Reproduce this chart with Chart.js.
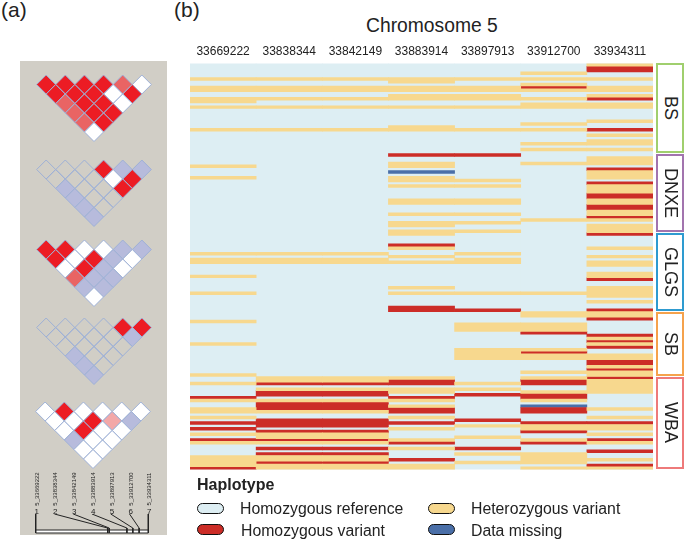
<!DOCTYPE html>
<html>
<head>
<meta charset="utf-8">
<title>Haplotype chart</title>
<script src="https://cdn.jsdelivr.net/npm/chart.js@4"></script>
<style>
  html, body { margin: 0; padding: 0; background: #fff; }
  body { width: 685px; height: 544px; position: relative; overflow: hidden; font-family: "Liberation Sans", Arial, sans-serif; color: #222; }
  canvas { position: absolute; }
  .abs { position: absolute; white-space: nowrap; }
  #panel { position: absolute; left: 20px; top: 61px; width: 147px; height: 474px; background: #d1cec6; }
  .strip { position: absolute; left: 656px; width: 28px; box-sizing: border-box; border: 2px solid; background: #fff; display: flex; align-items: center; justify-content: center; writing-mode: vertical-rl; font-size: 18px; }
  .swatch { position: absolute; width: 25px; height: 9px; border: 1.5px solid #111; border-radius: 6px; box-sizing: content-box; }
  .snp { position: absolute; font-size: 6px; transform: translate(-50%, -50%) rotate(-90deg); white-space: nowrap; }
  .num { position: absolute; font-size: 8px; transform: translate(-50%, -50%); }
</style>
</head>
<body>
<div class="abs" style="left:1px;top:-2px;font-size:21px">(a)</div>
<div class="abs" style="left:174px;top:-2px;font-size:21px">(b)</div>
<div class="abs" style="left:366px;top:15px;font-size:19.3px">Chromosome 5</div>
<div id="panel"></div>
<canvas id="heat" width="685" height="544" style="left:0;top:0"></canvas>

<div class="strip" style="top:63px;height:90px;border-color:#a0cf6e">BS</div>
<div class="strip" style="top:154px;height:78px;border-color:#a274ae">DNXE</div>
<div class="strip" style="top:233px;height:78px;border-color:#2e9bd0">GLGS</div>
<div class="strip" style="top:312px;height:64px;border-color:#f5a24c">SB</div>
<div class="strip" style="top:377px;height:92px;border-color:#ee7a7a">WBA</div>

<div class="abs" style="left:197px;top:476px;font-size:16px;font-weight:bold">Haplotype</div>
<div class="swatch" style="left:197px;top:503px;background:#ddeef3"></div>
<div class="abs" style="left:240px;top:500px;font-size:15.8px">Homozygous reference</div>
<div class="swatch" style="left:197px;top:524px;background:#cc2d27"></div>
<div class="abs" style="left:241px;top:522px;font-size:15.8px">Homozygous variant</div>
<div class="swatch" style="left:428px;top:503px;background:#f7d88e"></div>
<div class="abs" style="left:471px;top:500px;font-size:15.8px">Heterozygous variant</div>
<div class="swatch" style="left:428px;top:524px;background:#4a6fa8"></div>
<div class="abs" style="left:471px;top:522px;font-size:15.8px">Data missing</div>

<script>
const positions = ['33669222', '33838344', '33842149', '33883914', '33897913', '33912700', '33934311'];
const rowCount = 144;

// stripes per column as [first row, row after last]
const het1 = [[5,6],[8,10],[12,14],[15,16],[23,24],[36,37],[40,41],[67,68],[69,71],[75,76],[81,82],[91,92],[99,100],[110,111],[113,114],[119,120],[122,124],[125,126],[131,132],[134,135],[139,143]];
const hom1 = [[118,119],[127,128],[129,130],[133,134],[143,144]];
const het2 = [[5,6],[8,10],[12,13],[15,16],[23,24],[67,68],[69,71],[111,113],[115,116],[119,120],[123,124],[131,133],[134,135],[139,141],[142,144]];
const hom2 = [[113,114],[116,118],[120,123],[126,129],[130,131],[133,134],[136,137],[138,139],[141,142]];
const het3 = het2.slice();
const hom3 = hom2.slice();
const het4 = [[5,7],[8,10],[11,13],[15,16],[22,24],[35,37],[40,42],[43,44],[48,50],[53,54],[56,58],[59,61],[65,66],[68,69],[70,71],[79,80],[81,82],[111,112],[115,117],[119,120],[121,122],[125,126],[129,130],[133,134],[136,137],[142,144]];
const hom4 = [[32,33],[64,65],[86,88],[112,114],[118,119],[122,124],[127,128],[134,135],[140,141]];
const missing4 = [[38,39]];
const het5 = [[5,6],[8,10],[11,13],[15,16],[23,24],[41,42],[43,44],[48,50],[53,54],[56,57],[59,60],[67,68],[69,71],[81,82],[92,95],[101,105],[113,114],[115,116],[128,129],[132,133],[138,139],[141,142]];
const hom5 = [[32,33],[87,88],[117,118],[126,127],[136,137]];
const het6 = [[3,4],[5,6],[7,8],[9,10],[12,13],[14,16],[21,22],[23,24],[28,29],[30,31],[35,36],[55,56],[81,82],[88,90],[92,95],[101,102],[103,105],[109,110],[111,112],[116,117],[119,120],[128,130],[133,134],[138,142],[143,144]];
const hom6 = [[8,9],[95,96],[102,103],[112,114],[117,119],[122,124],[127,128],[130,131],[134,135]];
const missing6 = [[121,122]];
const het7 = [[0,1],[5,6],[8,10],[11,12],[14,16],[20,21],[25,26],[27,29],[30,31],[33,36],[38,41],[43,46],[48,50],[52,54],[55,56],[57,60],[65,66],[68,69],[70,72],[74,76],[79,83],[84,85],[88,90],[97,98],[99,100],[103,105],[107,108],[109,111],[112,117],[122,123],[125,126],[128,130],[131,132],[134,135],[140,141],[143,144]];
const hom7 = [[1,3],[12,13],[23,24],[37,38],[42,43],[46,48],[50,52],[54,55],[60,61],[76,77],[87,88],[90,91],[96,97],[98,99],[100,101],[105,107],[108,109],[111,112],[127,128],[133,134],[137,138],[142,143]];

// LD triangles, one string per row: r red, s salmon, p pink, w white, l lavender, n empty
const ldBS = ['rrrrsw', 'rrrwr', 'srrw', 'srr', 'sr', 'w'];
const ldDNXE = ['nnnrll', 'nnnwr', 'lnnr', 'lnn', 'ln', 'l'];
const ldGLGS = ['rrwwll', 'rwrlw', 'wrlw', 'sll', 'll', 'w'];
const ldSB = ['nnnnrr', 'nnnnl', 'nnnn', 'lnn', 'ln', 'l'];
const ldWBA = ['wrwwww', 'wwrpl', 'wrww', 'lww', 'ww', 'w'];

const ldColors = { r: '#ec1c24', s: '#e96464', p: '#f3a8a8', w: '#ffffff', l: '#b7bbdc', n: 'rgba(0,0,0,0)' };
const stateColors = { het: '#f7d88e', hom: '#cc2d27', missing: '#4a6fa8', ref: '#ddeef3' };

Chart.defaults.font.family = '"Liberation Sans", Arial, sans-serif';
Chart.defaults.color = '#222';
Chart.defaults.animation = false;

// k-th stripe of every column goes in one dataset so the count stays small
function stripeDatasets(columns, color) {
  const longest = Math.max(...columns.map(c => c.length));
  const sets = [];
  for (let k = 0; k < longest; k++) {
    sets.push({
      data: columns.map(c => c[k] || null),
      backgroundColor: color,
      barPercentage: 1,
      categoryPercentage: 1,
      grouped: false,
      order: 0
    });
  }
  return sets;
}

const heatSets = [
  {
    data: positions.map(() => [0, rowCount]),
    backgroundColor: stateColors.ref,
    barPercentage: 1,
    categoryPercentage: 1,
    grouped: false,
    order: 1
  },
  ...stripeDatasets([het1, het2, het3, het4, het5, het6, het7], stateColors.het),
  ...stripeDatasets([hom1, hom2, hom3, hom4, hom5, hom6, hom7], stateColors.hom),
  ...stripeDatasets([[], [], [], missing4, [], missing6, []], stateColors.missing)
];

new Chart(document.getElementById('heat'), {
  type: 'bar',
  data: { labels: positions, datasets: heatSets },
  options: {
    responsive: false,
    layout: { padding: { left: 190, right: 32, top: 41.8, bottom: 74.4 } },
    plugins: {
      legend: { display: false },
      tooltip: { enabled: false }
    },
    scales: {
      x: {
        position: 'top',
        grid: { display: false, drawTicks: false },
        border: { display: false },
        ticks: { font: { size: 12 }, color: '#222', padding: 5, maxRotation: 0, autoSkip: false },
        afterFit(scale) { scale.height = 21.6; }
      },
      y: { display: false, reverse: true, min: 0, max: rowCount }
    }
  }
});

function drawTriangle(rows, left, top) {
  const canvas = document.createElement('canvas');
  canvas.width = 134;
  canvas.height = 76;
  canvas.style.left = left + 'px';
  canvas.style.top = top + 'px';
  document.body.appendChild(canvas);
  const cells = [];
  const fills = [];
  rows.forEach((row, r) => {
    [...row].forEach((code, i) => {
      cells.push({ x: i + r / 2, y: r });
      fills.push(ldColors[code]);
    });
  });
  new Chart(canvas, {
    type: 'scatter',
    data: {
      datasets: [{
        data: cells,
        pointStyle: 'rectRot',
        pointRadius: 9.5,
        pointBackgroundColor: fills,
        pointBorderColor: '#9db0d6',
        pointBorderWidth: 1,
        clip: false
      }]
    },
    options: {
      responsive: false,
      layout: { autoPadding: false },
      plugins: { legend: { display: false }, tooltip: { enabled: false } },
      scales: {
        x: { display: false, min: -1, max: 6 },
        y: { display: false, reverse: true, min: -1, max: 7 }
      }
    }
  });
}

drawTriangle(ldBS, 27, 75);
drawTriangle(ldDNXE, 27, 160);
drawTriangle(ldGLGS, 27, 240);
drawTriangle(ldSB, 27, 318);
drawTriangle(ldWBA, 26, 402);

// SNP names, numbers and the map bar under the triangles
const slotX = [36.7, 55.3, 74.3, 93.3, 112, 130.7, 149.3];
positions.forEach((p, i) => {
  const name = document.createElement('div');
  name.className = 'snp';
  name.textContent = '5_' + p;
  name.style.left = slotX[i] + 'px';
  name.style.top = '489px';
  document.body.appendChild(name);
  const num = document.createElement('div');
  num.className = 'num';
  num.textContent = i + 1;
  num.style.left = slotX[i] + 'px';
  num.style.top = '511px';
  document.body.appendChild(num);
});

const first = Number(positions[0]);
const last = Number(positions[6]);
const bpPerPx = (last - first) / 112.6;

const mapCanvas = document.createElement('canvas');
mapCanvas.width = 147;
mapCanvas.height = 22;
mapCanvas.style.left = '20px';
mapCanvas.style.top = '514px';
document.body.appendChild(mapCanvas);

const mapSets = positions.map((p, i) => ({
  data: [
    { x: first + (last - first) * i / 6, y: 0 },
    { x: Number(p), y: 14 },
    { x: Number(p), y: 19 }
  ],
  borderColor: '#222',
  borderWidth: 1,
  showLine: true,
  pointRadius: 0,
  clip: false
}));
// white core of the bar goes underneath, then its top and bottom edge
mapSets.unshift(
  { data: [{ x: first, y: 17.5 }, { x: last, y: 17.5 }], borderColor: '#ffffff', borderWidth: 3, showLine: true, pointRadius: 0, order: 1 },
  { data: [{ x: first, y: 16 }, { x: last, y: 16 }], borderColor: '#222', borderWidth: 1, showLine: true, pointRadius: 0 },
  { data: [{ x: first, y: 19 }, { x: last, y: 19 }], borderColor: '#222', borderWidth: 1, showLine: true, pointRadius: 0 }
);

new Chart(mapCanvas, {
  type: 'scatter',
  data: { datasets: mapSets },
  options: {
    responsive: false,
    layout: { autoPadding: false },
    plugins: { legend: { display: false }, tooltip: { enabled: false } },
    scales: {
      x: { display: false, min: first - 15.7 * bpPerPx, max: first + 131.3 * bpPerPx },
      y: { display: false, reverse: true, min: 0, max: 22 }
    }
  }
});
</script>
</body>
</html>
